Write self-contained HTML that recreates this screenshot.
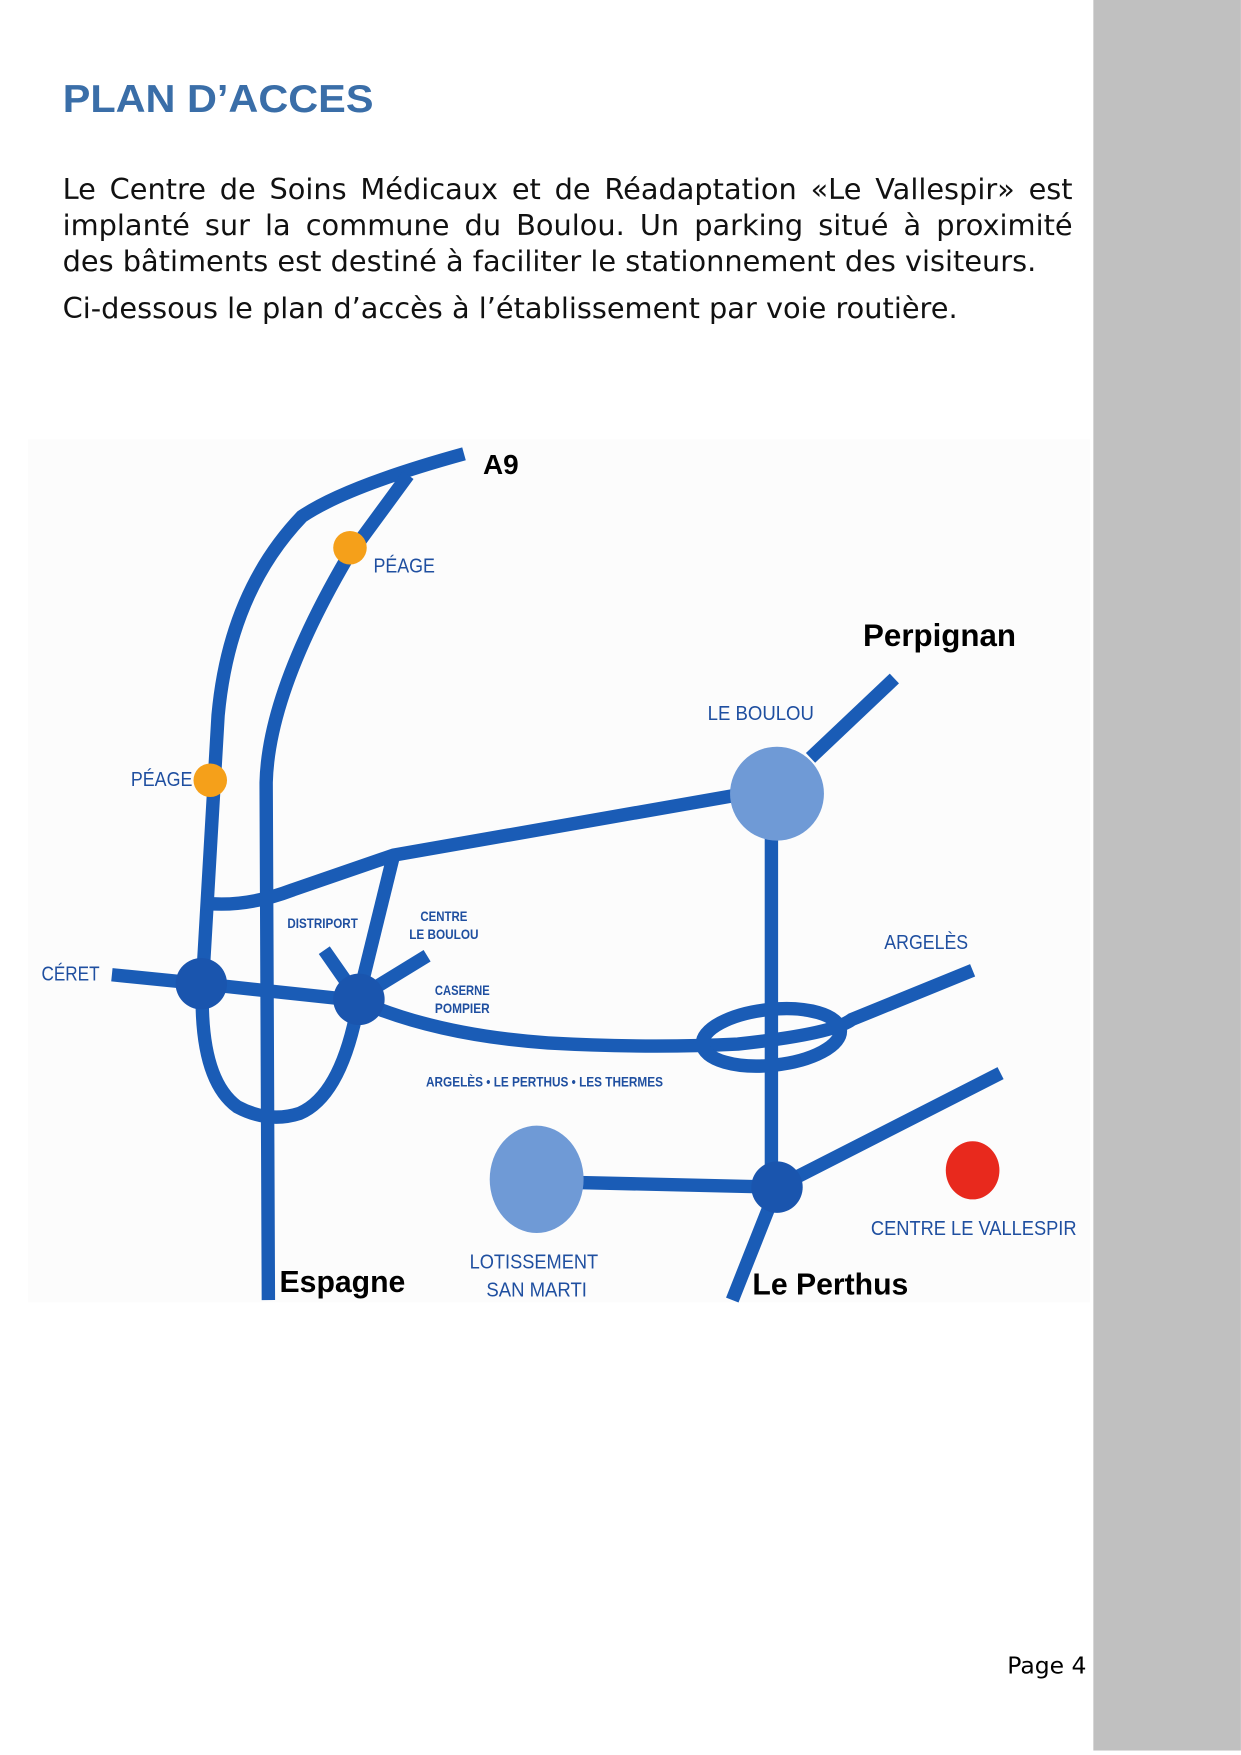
<!DOCTYPE html>
<html><head><meta charset="utf-8"><style>
html,body{margin:0;padding:0;background:#fff;}
body{position:relative;width:1241px;height:1755px;overflow:hidden;}
svg{display:block;position:absolute;left:0;top:0;}
.t{position:absolute;left:62.6px;width:1010px;font-family:"DejaVu Sans",sans-serif;font-size:28.8px;line-height:30px;color:#111;white-space:nowrap;}
.j{text-align:justify;text-align-last:justify;}
</style></head><body>
<svg width="1241" height="1755" viewBox="0 0 1110 1570" xmlns="http://www.w3.org/2000/svg">
<rect x="0" y="0" width="1110" height="1570" fill="#fff"/>
<rect x="978" y="0" width="132" height="1566" fill="#c0c0c0"/>
<text x="56" y="100" font-family="Liberation Sans, sans-serif" font-weight="bold" font-size="35" fill="#3a6ea8" textLength="278" lengthAdjust="spacingAndGlyphs">PLAN D’ACCES</text>
<rect x="25" y="393" width="950" height="772" fill="#fcfcfc"/>
<g fill="none" stroke="#1a5cb6" stroke-width="12" stroke-linecap="butt">
<path d="M415,406 Q 310,435 270,462 Q 205,530 195,640 L 181,880 Q 178,965 212,990 Q 240,1005 268,996 Q 305,980 320,900"/>
<path d="M365,425 L 310,500 Q 240,620 238,700 L 240,1163"/>
<path d="M183,808 Q 220,812 262,796 L 352,765 L 655,712"/>
<path d="M352,765 L 320,895"/>
<path d="M290,850 L 320,893 M382,855 L 320,893"/>
<path d="M100,872 L 180,880 L 320,895 Q 390,926 490,933 Q 580,938 660,934 Q 745,925 762,912 L 870,868"/>
<ellipse cx="690" cy="928" rx="62" ry="25" transform="rotate(-6 690 928)"/>
<path d="M725,678 L 800,607"/>
<path d="M690,750 L 690,1062"/>
<path d="M695,1062 L 655,1163 M695,1062 L 895,960 M695,1062 L 480,1057"/>
</g>
<circle cx="695" cy="710" r="42" fill="#6f9ad6"/>
<ellipse cx="480" cy="1055" rx="42" ry="48" fill="#6f9ad6"/>
<circle cx="180" cy="880" r="23" fill="#1a55ae"/>
<circle cx="321" cy="894" r="23" fill="#1a55ae"/>
<circle cx="695" cy="1062" r="23" fill="#1a55ae"/>
<circle cx="313" cy="490" r="15" fill="#f5a01a"/>
<circle cx="188" cy="698" r="15" fill="#f5a01a"/>
<ellipse cx="870" cy="1047" rx="24" ry="26" fill="#e8291d"/>
<g font-family="Liberation Sans, sans-serif" font-weight="bold" fill="#000">
<text x="432" y="424" font-size="25">A9</text>
<text x="772" y="578" font-size="28">Perpignan</text>
<text x="250" y="1156" font-size="27">Espagne</text>
<text x="673" y="1158" font-size="27">Le Perthus</text>
</g>
<g font-family="Liberation Sans, sans-serif" fill="#1f4fa0">
<text x="334" y="512" font-size="18" textLength="55" lengthAdjust="spacingAndGlyphs">PÉAGE</text>
<text x="117" y="703" font-size="18" textLength="55" lengthAdjust="spacingAndGlyphs">PÉAGE</text>
<text x="633" y="644" font-size="18" textLength="95" lengthAdjust="spacingAndGlyphs">LE BOULOU</text>
<text x="37" y="877" font-size="18" textLength="52" lengthAdjust="spacingAndGlyphs">CÉRET</text>
<text x="791" y="849" font-size="18" textLength="75" lengthAdjust="spacingAndGlyphs">ARGELÈS</text>
<text x="257" y="830" font-size="12" font-weight="bold" textLength="63" lengthAdjust="spacingAndGlyphs">DISTRIPORT</text>
<text x="376" y="824" font-size="12" font-weight="bold" textLength="42" lengthAdjust="spacingAndGlyphs">CENTRE</text>
<text x="366" y="840" font-size="12" font-weight="bold" textLength="62" lengthAdjust="spacingAndGlyphs">LE BOULOU</text>
<text x="389" y="890" font-size="12" font-weight="bold" textLength="49" lengthAdjust="spacingAndGlyphs">CASERNE</text>
<text x="389" y="906" font-size="12" font-weight="bold" textLength="49" lengthAdjust="spacingAndGlyphs">POMPIER</text>
<text x="381" y="972" font-size="12" font-weight="bold" textLength="212" lengthAdjust="spacingAndGlyphs">ARGELÈS • LE PERTHUS • LES THERMES</text>
<text x="779" y="1105" font-size="18" textLength="184" lengthAdjust="spacingAndGlyphs">CENTRE LE VALLESPIR</text>
<text x="420" y="1135" font-size="18" textLength="115" lengthAdjust="spacingAndGlyphs">LOTISSEMENT</text>
<text x="435" y="1160" font-size="18" textLength="90" lengthAdjust="spacingAndGlyphs">SAN MARTI</text>
</g>
<text x="901" y="1497" font-family="DejaVu Sans, sans-serif" font-size="21" fill="#000">Page 4</text>
</svg>
<div class="t j" style="top:174px">Le Centre de Soins Médicaux et de Réadaptation «Le Vallespir» est</div>
<div class="t j" style="top:210px">implanté sur la commune du Boulou. Un parking situé à proximité</div>
<div class="t" style="top:246px">des bâtiments est destiné à faciliter le stationnement des visiteurs.</div>
<div class="t" style="top:293px">Ci-dessous le plan d’accès à l’établissement par voie routière.</div>
</body></html>
